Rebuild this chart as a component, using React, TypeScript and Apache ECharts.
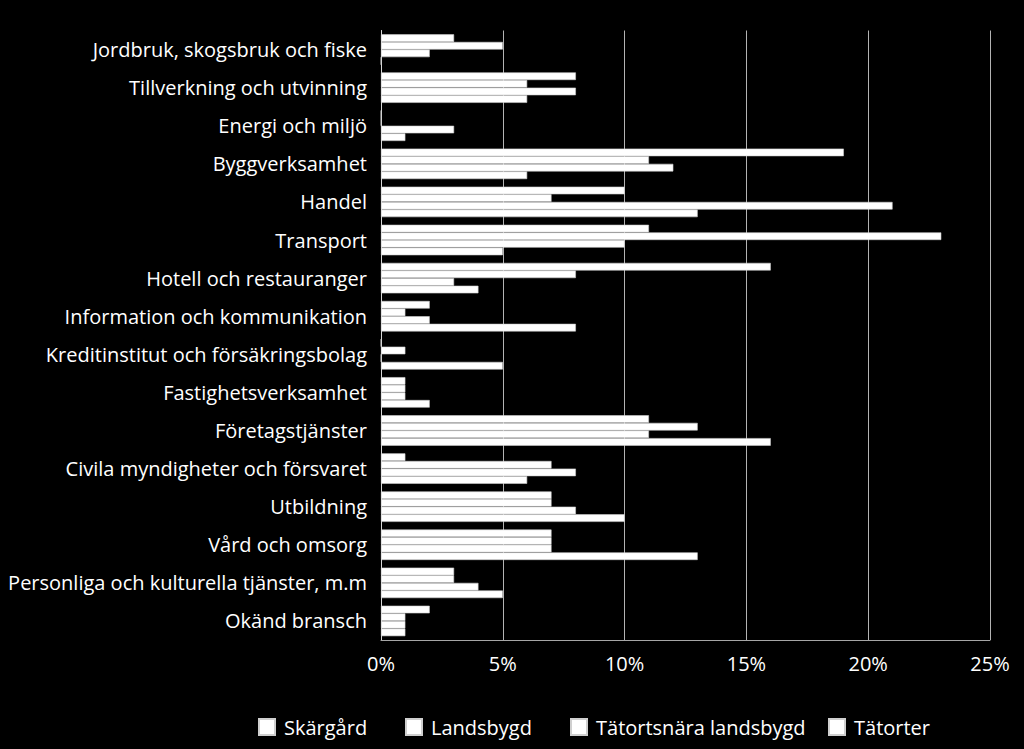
import React, { useEffect, useRef } from "react";
import * as echarts from "echarts";

const categories = [
  "Jordbruk, skogsbruk och fiske",
  "Tillverkning och utvinning",
  "Energi och miljö",
  "Byggverksamhet",
  "Handel",
  "Transport",
  "Hotell och restauranger",
  "Information och kommunikation",
  "Kreditinstitut och försäkringsbolag",
  "Fastighetsverksamhet",
  "Företagstjänster",
  "Civila myndigheter och försvaret",
  "Utbildning",
  "Vård och omsorg",
  "Personliga och kulturella tjänster, m.m",
  "Okänd bransch",
];

const seriesNames = ["Skärgård", "Landsbygd", "Tätortsnära landsbygd", "Tätorter"];

const skargard = [3, 8, 0, 19, 10, 11, 16, 2, 0, 1, 11, 1, 7, 7, 3, 2];
const landsbygd = [5, 6, 0, 11, 7, 23, 8, 1, 1, 1, 13, 7, 7, 7, 3, 1];
const tatortsnara = [2, 8, 3, 12, 21, 10, 3, 2, 0, 1, 11, 8, 8, 7, 4, 1];
const tatorter = [0, 6, 1, 6, 13, 5, 4, 8, 5, 2, 16, 6, 10, 13, 5, 1];

const xTicks = { min: 0, max: 25, interval: 5 };

const legendLeft = [253, 400, 565, 823];

const FONT = "'Open Sans', 'Noto Sans', sans-serif";

export default function App() {
  const ref = useRef<HTMLDivElement>(null);

  useEffect(() => {
    document.body.style.margin = "0";
    document.body.style.background = "#000";
    if (!ref.current) return;
    const chart = echarts.init(ref.current, null, { renderer: "svg" });
    const data = [skargard, landsbygd, tatortsnara, tatorter];
    chart.setOption({
      animation: false,
      backgroundColor: "#000",
      grid: { left: 381, right: 34, top: 30.5, bottom: 109, containLabel: false },
      legend: seriesNames.map((name, i) => ({
        data: [name],
        left: legendLeft[i],
        top: 712,
        itemWidth: 16,
        itemHeight: 16,
        icon: "rect",
        selectedMode: false,
        textStyle: { color: "#fff", fontSize: 20, fontFamily: FONT, padding: [0, 0, 0, 4] },
      })),
      xAxis: {
        type: "value",
        min: xTicks.min,
        max: xTicks.max,
        interval: xTicks.interval,
        axisLine: { show: true, lineStyle: { color: "#a6a6a6", width: 1 } },
        axisTick: { show: false },
        splitLine: { show: true, lineStyle: { color: "#b3b3b3", width: 1 } },
        axisLabel: {
          color: "#fff",
          fontSize: 20,
          fontFamily: FONT,
          margin: 13,
          formatter: "{value}%",
        },
      },
      yAxis: {
        type: "category",
        data: categories,
        inverse: true,
        axisLine: { show: true, lineStyle: { color: "#d9d9d9", width: 1 } },
        axisTick: { show: false },
        splitLine: { show: false },
        axisLabel: { color: "#fff", fontSize: 20, fontFamily: FONT, margin: 14 },
      },
      series: seriesNames.map((name, i) => ({
        name,
        type: "bar",
        data: data[i],
        barGap: "0%",
        barCategoryGap: "20%",
        itemStyle: { color: "#fff", borderColor: "#cfcfcf", borderWidth: 0.6 },
      })),
    });
    return () => chart.dispose();
  }, []);

  return <div ref={ref} style={{ width: 1024, height: 749, background: "#000" }} />;
}
